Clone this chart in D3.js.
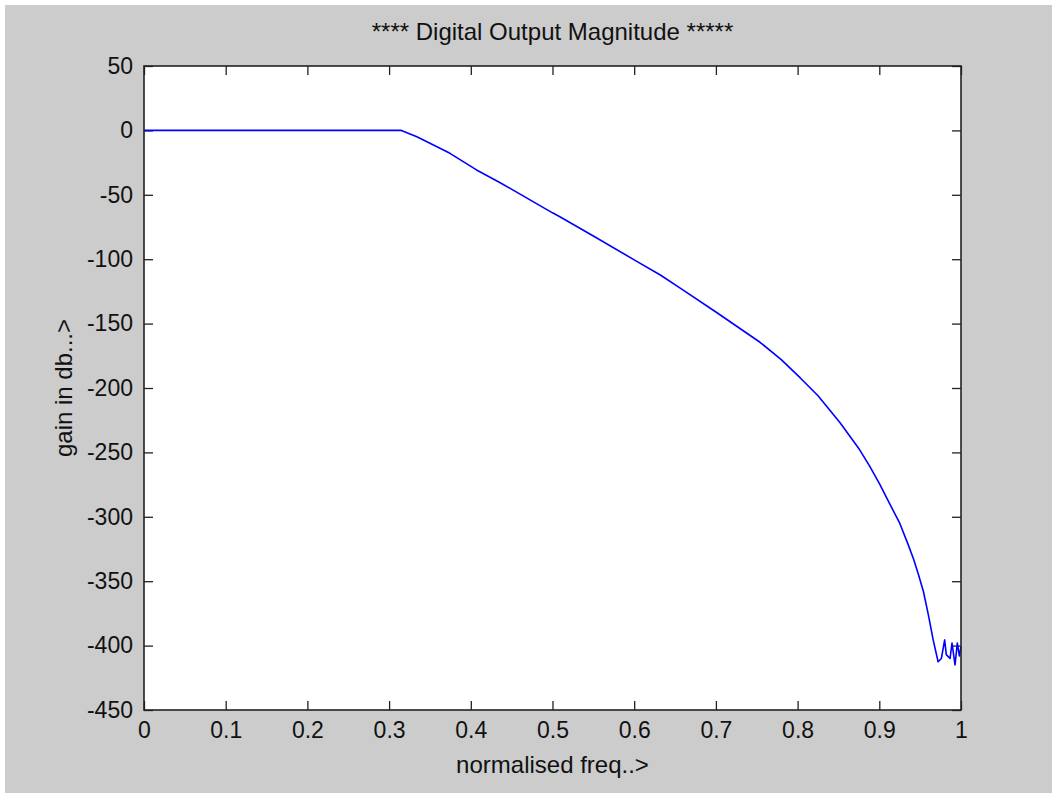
<!DOCTYPE html>
<html>
<head>
<meta charset="utf-8">
<script src="https://cdn.jsdelivr.net/npm/d3@7"></script>
<style>
  html, body { margin: 0; padding: 0; background: #ffffff; }
  svg { display: block; }
  text { font-family: "Liberation Sans", Arial, Helvetica, sans-serif; fill: #111; }
</style>
</head>
<body>
<svg id="chart" width="1052" height="793"></svg>
<script>
// Normalised frequency samples and the filter gain (dB) at each one
const freq = [0, 0.1, 0.2, 0.3, 0.315, 0.334, 0.3745, 0.407, 0.436, 0.5, 0.509, 0.55, 0.6, 0.632,
  0.66, 0.7, 0.754, 0.78, 0.803, 0.825, 0.852, 0.876, 0.888, 0.9, 0.912, 0.925, 0.935, 0.942,
  0.948, 0.954, 0.96, 0.966, 0.972, 0.976, 0.980, 0.982, 0.9866, 0.989, 0.9927, 0.9955, 0.998, 1.0];
const gain = [0, 0, 0, 0, 0, -4.9, -17.8, -30.7, -40.6, -64, -67, -82, -100.5, -112.3,
  -124, -141, -164.5, -178, -192, -206, -227, -248, -260.5, -274, -289, -305, -321, -333,
  -345, -358, -376, -395.7, -412.5, -410, -395.6, -407, -410, -398, -415, -398, -408, -401];

const xTicks = [0, 0.1, 0.2, 0.3, 0.4, 0.5, 0.6, 0.7, 0.8, 0.9, 1];
const yTicks = [50, 0, -50, -100, -150, -200, -250, -300, -350, -400, -450];

const titleText = "**** Digital Output Magnitude *****";
const xLabel = "normalised freq..>";
const yLabel = "gain in db...>";

const W = 1052, H = 793;
const plot = { left: 144, right: 961, top: 66, bottom: 710 };

const svg = d3.select("#chart");

// figure background
svg.append("rect").attr("x", 5).attr("y", 5).attr("width", W - 5).attr("height", H - 5)
  .attr("fill", "#cccccc");

const x = d3.scaleLinear().domain([0, 1]).range([plot.left, plot.right]);
const y = d3.scaleLinear().domain([-450, 50]).range([plot.bottom, plot.top]);

// axes area
svg.append("rect")
  .attr("x", plot.left).attr("y", plot.top)
  .attr("width", plot.right - plot.left).attr("height", plot.bottom - plot.top)
  .attr("fill", "#ffffff");

// plain hyphen-minus labels, no trailing zeros
const fmt = d => String(+(+d).toFixed(1));
const tickLen = 9;
const tickFont = 23;

function styleAxis(g) {
  g.select(".domain").remove();
  g.selectAll(".tick line").attr("stroke", "#222").attr("stroke-width", 1.3);
  g.selectAll(".tick text")
    .style("font-size", tickFont + "px")
    .attr("fill", "#111");
}

// bottom axis (ticks inward)
svg.append("g").attr("transform", `translate(0,${plot.bottom})`)
  .call(d3.axisBottom(x).tickValues(xTicks).tickFormat(fmt).tickSizeInner(-tickLen).tickSizeOuter(0).tickPadding(12))
  .call(styleAxis)
  .call(g => g.selectAll(".tick text").attr("dy", "0.71em"));

// top axis mirrored ticks, no labels
svg.append("g").attr("transform", `translate(0,${plot.top})`)
  .call(d3.axisTop(x).tickValues(xTicks).tickFormat("").tickSizeInner(-tickLen).tickSizeOuter(0))
  .call(styleAxis);

// left axis
svg.append("g").attr("transform", `translate(${plot.left},0)`)
  .call(d3.axisLeft(y).tickValues(yTicks).tickFormat(fmt).tickSizeInner(-tickLen).tickSizeOuter(0).tickPadding(11))
  .call(styleAxis);

// right axis mirrored ticks
svg.append("g").attr("transform", `translate(${plot.right},0)`)
  .call(d3.axisRight(y).tickValues(yTicks).tickFormat("").tickSizeInner(-tickLen).tickSizeOuter(0))
  .call(styleAxis);

// data line
const line = d3.line().x((d, i) => x(freq[i])).y(d => y(d));
svg.append("path")
  .datum(gain)
  .attr("d", line)
  .attr("fill", "none")
  .attr("stroke", "#0000ff")
  .attr("stroke-width", 1.6)
  .attr("stroke-linejoin", "round");

// box around the axes
svg.append("rect")
  .attr("x", plot.left).attr("y", plot.top)
  .attr("width", plot.right - plot.left).attr("height", plot.bottom - plot.top)
  .attr("fill", "none").attr("stroke", "#222").attr("stroke-width", 1.6);

// title and axis labels
svg.append("text")
  .attr("x", (plot.left + plot.right) / 2).attr("y", 40)
  .attr("text-anchor", "middle").style("font-size", "24px")
  .text(titleText);

svg.append("text")
  .attr("x", (plot.left + plot.right) / 2).attr("y", 773)
  .attr("text-anchor", "middle").style("font-size", "24px")
  .text(xLabel);

svg.append("text")
  .attr("transform", `translate(72,${(plot.top + plot.bottom) / 2}) rotate(-90)`)
  .attr("text-anchor", "middle").style("font-size", "24px")
  .text(yLabel);
</script>
</body>
</html>
